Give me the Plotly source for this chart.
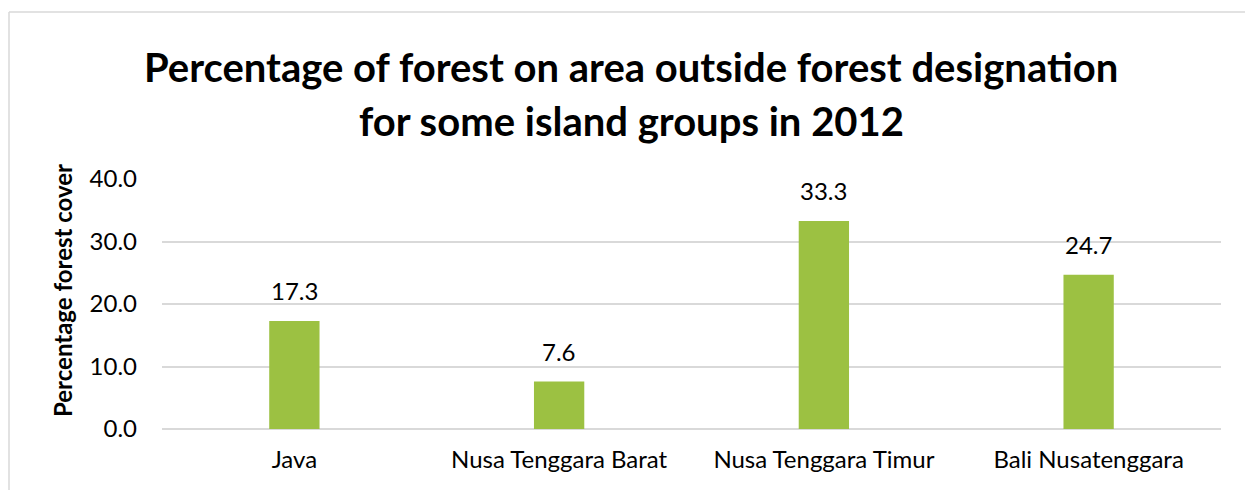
import plotly.graph_objects as go

# Island groups and forest share outside designated forest area (2012)
categories = ["Java", "Nusa Tenggara Barat", "Nusa Tenggara Timur", "Bali Nusatenggara"]
forest_pct = [17.3, 7.6, 33.3, 24.7]
y_ticks = [0, 10, 20, 30, 40]
y_tick_labels = ["0.0", "10.0", "20.0", "30.0", "40.0"]

title_lines = ["Percentage of forest on area outside forest designation",
               "for some island groups in 2012"]
y_title = "Percentage forest cover"

FONT = "Lato"
BAR = "#9cc142"
GRID = "#d9d9d9"

W, H = 1245, 490
L, R, T, B = 162, 24, 179, 61
pw, ph = W - L - R, H - T - B


def px_x(px):
    return (px - L) / pw


def px_y(py):
    return (H - B - py) / ph


fig = go.Figure()
fig.add_trace(go.Bar(
    x=categories, y=forest_pct, marker=dict(color=BAR, line=dict(width=0)),
    width=0.19, hoverinfo="skip",
))

annotations = []
for c, v in zip(categories, forest_pct):
    annotations.append(dict(
        x=c, y=v, xref="x", yref="y", text=f"{v:.1f}", showarrow=False,
        yanchor="bottom", yshift=14,
        font=dict(family=FONT, size=24, color="#000000"),
    ))

for line, cy in zip(title_lines, [67, 121]):
    annotations.append(dict(
        x=px_x(631), y=px_y(cy), xref="paper", yref="paper", text=f"<b>{line}</b>",
        showarrow=False, xanchor="center", yanchor="middle",
        font=dict(family=FONT, size=40, color="#000000"),
    ))

annotations.append(dict(
    x=px_x(62), y=px_y(291), xref="paper", yref="paper", text=f"<b>{y_title}</b>",
    showarrow=False, textangle=-90, xanchor="center", yanchor="middle",
    font=dict(family=FONT, size=24, color="#000000"),
))

shapes = [
    dict(type="line", xref="paper", yref="paper", x0=px_x(9), x1=px_x(1300),
         y0=px_y(12), y1=px_y(12), line=dict(color=GRID, width=1.5)),
    dict(type="line", xref="paper", yref="paper", x0=px_x(9), x1=px_x(9),
         y0=px_y(12), y1=px_y(560), line=dict(color=GRID, width=1.5)),
]

fig.update_layout(
    width=W, height=H,
    margin=dict(l=L, r=R, t=T, b=B, pad=0),
    paper_bgcolor="white", plot_bgcolor="white",
    showlegend=False,
    annotations=annotations,
    shapes=shapes,
    xaxis=dict(
        showgrid=False, showline=False, zeroline=False, ticks="",
        tickfont=dict(family=FONT, size=24, color="#000000"),
        ticklabelstandoff=14,
    ),
    yaxis=dict(
        range=[0, 40], tickvals=y_ticks, ticktext=y_tick_labels,
        showgrid=True, gridcolor=GRID, gridwidth=1.5,
        zeroline=True, zerolinecolor=GRID, zerolinewidth=1.5,
        showline=False, ticks="",
        tickfont=dict(family=FONT, size=24, color="#000000"),
        ticklabelstandoff=24,
    ),
)

fig.write_html("out.html")
